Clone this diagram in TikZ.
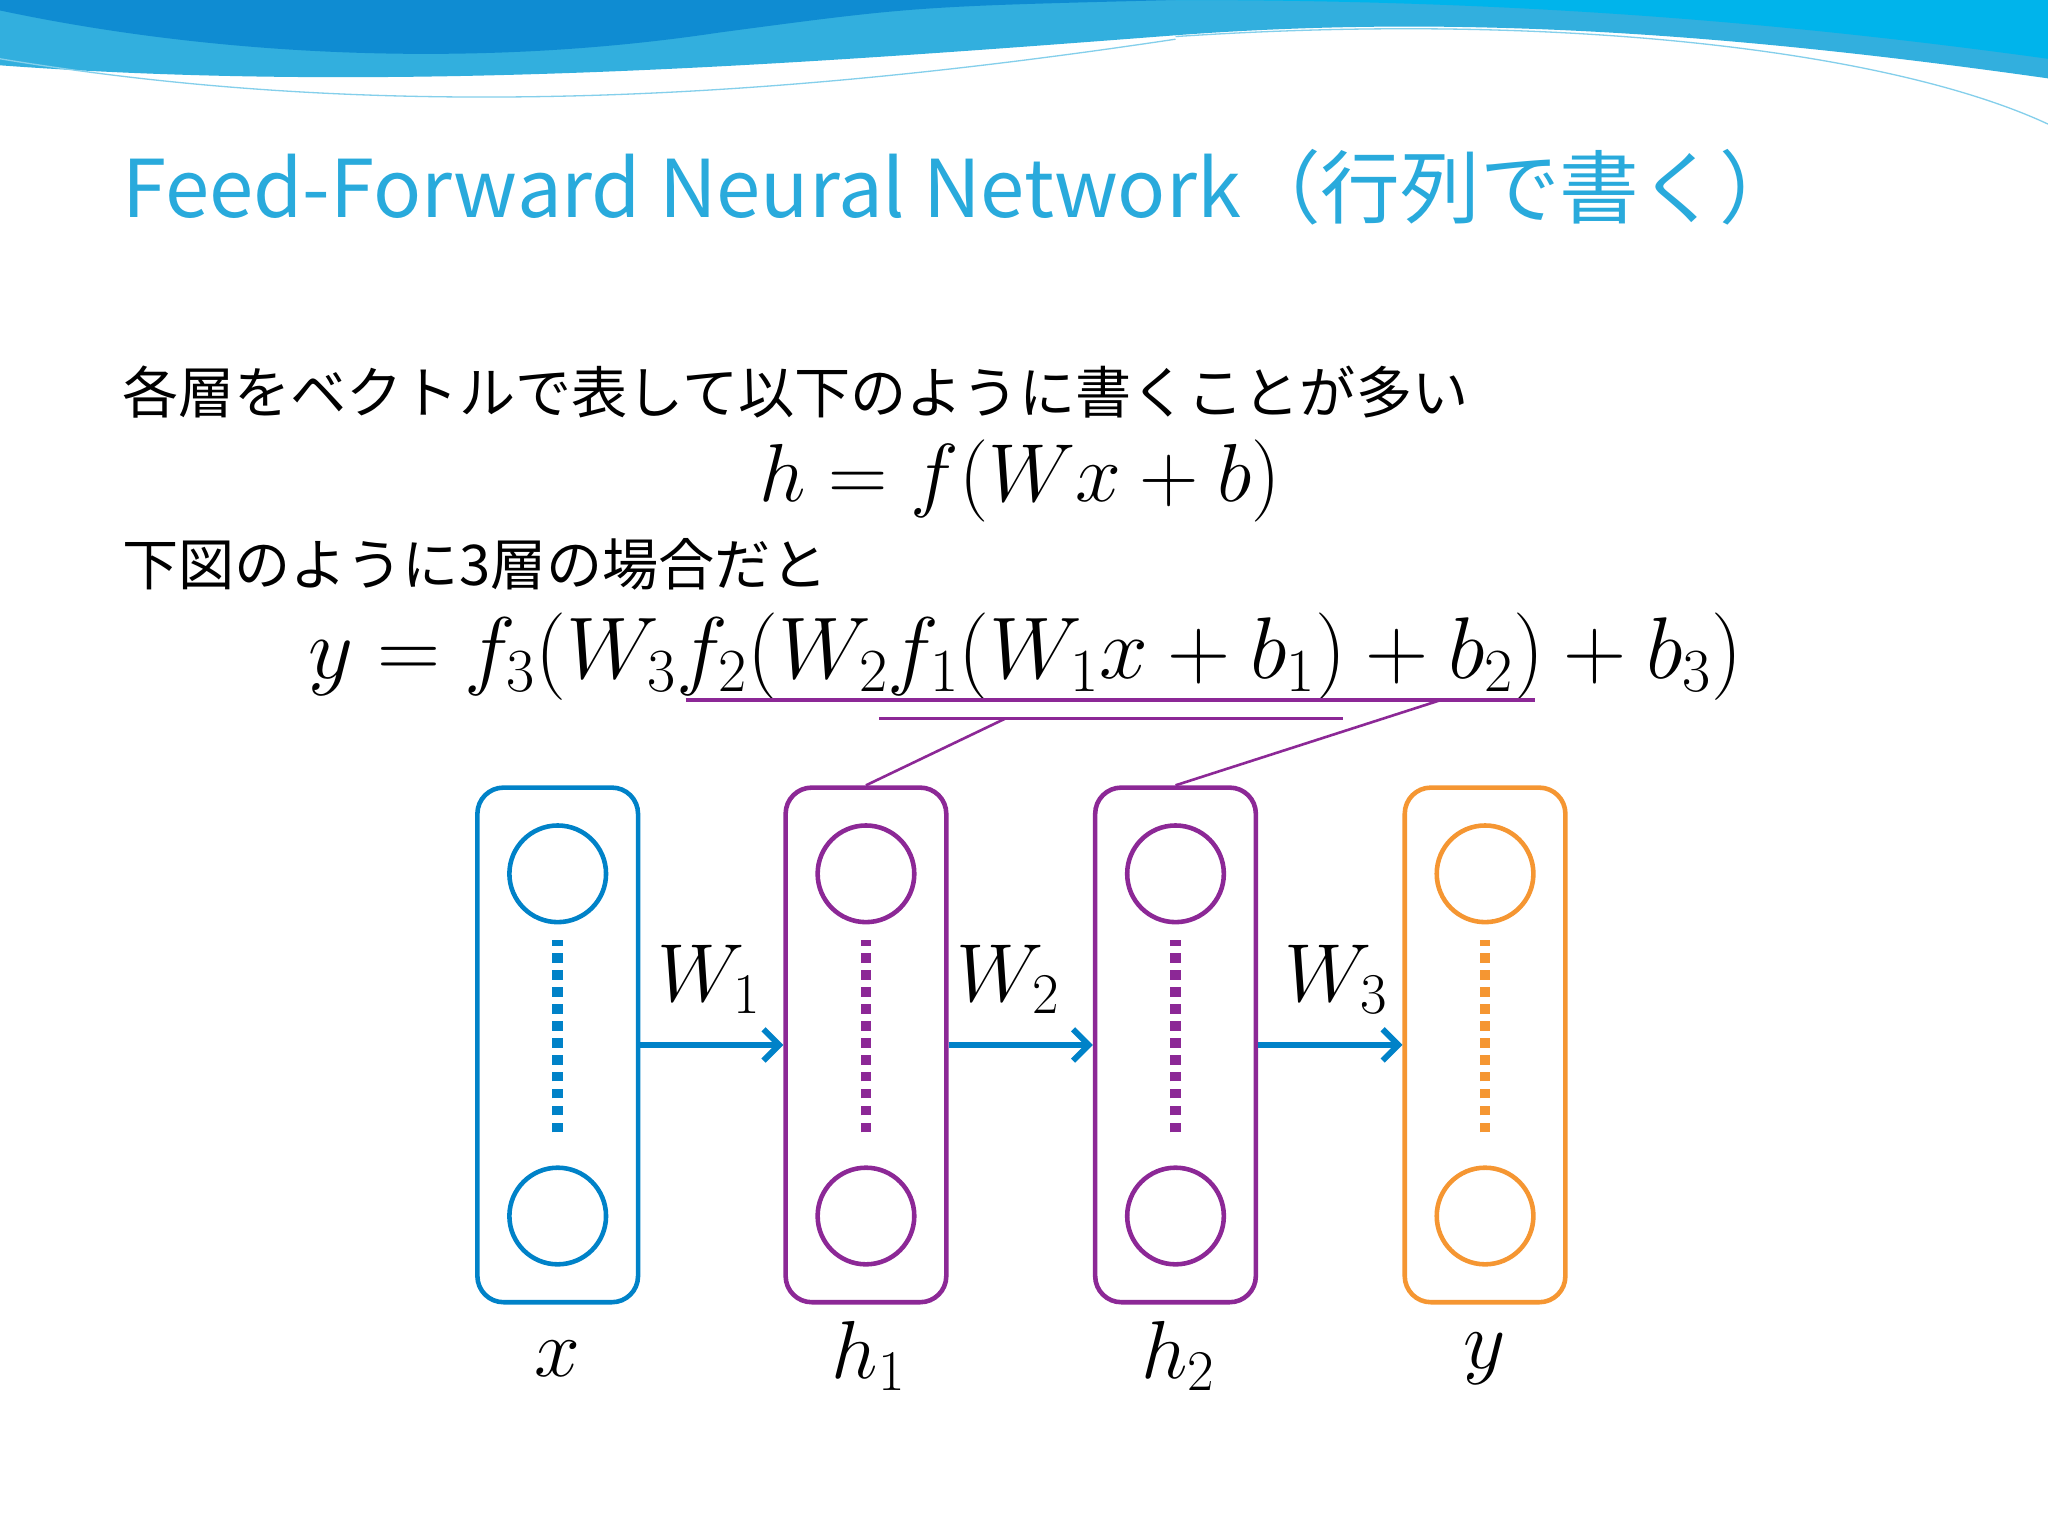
\RequirePackage{fix-cm}
\documentclass[tikz,border=0pt]{standalone}
\usepackage{fontspec}
\usetikzlibrary{arrows.meta}
\newfontfamily\jp{Noto Sans CJK JP}
\begin{document}
\begin{tikzpicture}[x=1pt,y=-1pt,
  lay/.style={draw=#1,line width=3.5pt,rounded corners=20pt,minimum width=123pt,minimum height=394pt,inner sep=0pt},
  neu/.style={draw=#1,line width=3.5pt,circle,minimum size=74pt,inner sep=0pt},
  dots/.style={draw=#1,line width=8pt,dash pattern=on 7pt off 6pt},
  arr/.style={draw=cblue,line width=4.5pt,-{Straight Barb[length=12pt,width=24pt]}},
  mth/.style={font=\fontsize{63}{75}\selectfont},
  txt/.style={font=\jp\fontsize{43}{52}\selectfont,anchor=west}]
\definecolor{cblue}{RGB}{0,130,200}
\definecolor{cpurp}{RGB}{140,40,150}
\definecolor{corng}{RGB}{245,150,50}
\definecolor{ctitle}{RGB}{41,170,220}
\definecolor{wave1}{RGB}{50,175,222}
\definecolor{wave2}{RGB}{15,140,210}
\definecolor{wave3}{RGB}{0,180,235}
\useasboundingbox (0,0) rectangle (1568,1176);
\fill[white] (0,0) rectangle (1568,1176);
% wave
\fill[wave1] (0,0) -- (1568,0) -- (1568,60) .. controls (1300,22) and (1100,12) .. (900,27) .. controls (600,50) and (300,72) .. (0,50) -- cycle;
\fill[wave3] (900,0) -- (1568,0) -- (1568,45) .. controls (1350,15) and (1150,0) .. (900,0) -- cycle;
\fill[wave2] (0,0) -- (0,8) .. controls (150,40) and (350,55) .. (550,25) .. controls (700,5) .. (900,0) -- cycle;
\draw[wave1!60,line width=1pt] (0,45) .. controls (300,95) and (600,75) .. (900,30);
\draw[wave1!60,line width=1pt] (900,28) .. controls (1200,8) and (1450,40) .. (1568,95);
% title
\node[anchor=west,text=ctitle,font=\jp\fontsize{61}{72}\selectfont] (title) at (90,143) {Feed-Forward Neural Network（行列で書く）};
\node[txt] (t1) at (90,300) {各層をベクトルで表して以下のように書くことが多い};
\node[mth] (e1) at (781,368) {$h = f(Wx+b)$};
\node[txt] (t2) at (90,432) {下図のように3層の場合だと};
\node[mth,font=\fontsize{67}{80}\selectfont] (e2) at (785,503) {$y = f_3(W_3 f_2(W_2 f_1(W_1 x + b_1) + b_2) + b_3)$};
% underlines
\coordinate (u1a) at (525,536); \coordinate (u1b) at (1175,536); \coordinate (u1c) at (1103,536);
\coordinate (u2a) at (673,550); \coordinate (u2b) at (1028,550); \coordinate (u2c) at (770,550);
\draw[cpurp,line width=2.5pt] (u1a) -- (u1b);
\draw[cpurp,line width=2.5pt] (u2a) -- (u2b);
% layers
\node[lay=cblue] (L0) at (427,800) {};
\node[lay=cpurp] (L1) at (663,800) {};
\node[lay=cpurp] (L2) at (900,800) {};
\node[lay=corng] (L3) at (1137,800) {};
\draw[cpurp,line width=2pt] (u2c) -- (L1.north);
\draw[cpurp,line width=2pt] (u1c) -- (L2.north);
\foreach \i/\c in {0/cblue,1/cpurp,2/cpurp,3/corng}{
  \node[neu=\c] (a\i) at ([yshift=-131pt]L\i.center) {};
  \node[neu=\c] (b\i) at ([yshift=131pt]L\i.center) {};
  \draw[dots=\c] ([yshift=-67pt]L\i.center) -- ([yshift=80pt]L\i.center);
}
\draw[arr] (L0.east) -- (L1.west);
\draw[arr] (L1.east) -- (L2.west);
\draw[arr] (L2.east) -- (L3.west);
\node[mth] (w1) at (543,750) {$W_1$};
\node[mth] (w2) at (772,750) {$W_2$};
\node[mth] (w3) at (1023,750) {$W_3$};
\node[mth] (lx) at (427,1040) {$x$};
\node[mth] (lh1) at (665,1038) {$h_1$};
\node[mth] (lh2) at (902,1038) {$h_2$};
\node[mth] (ly) at (1137,1040) {$y$};
\end{tikzpicture}
\end{document}
